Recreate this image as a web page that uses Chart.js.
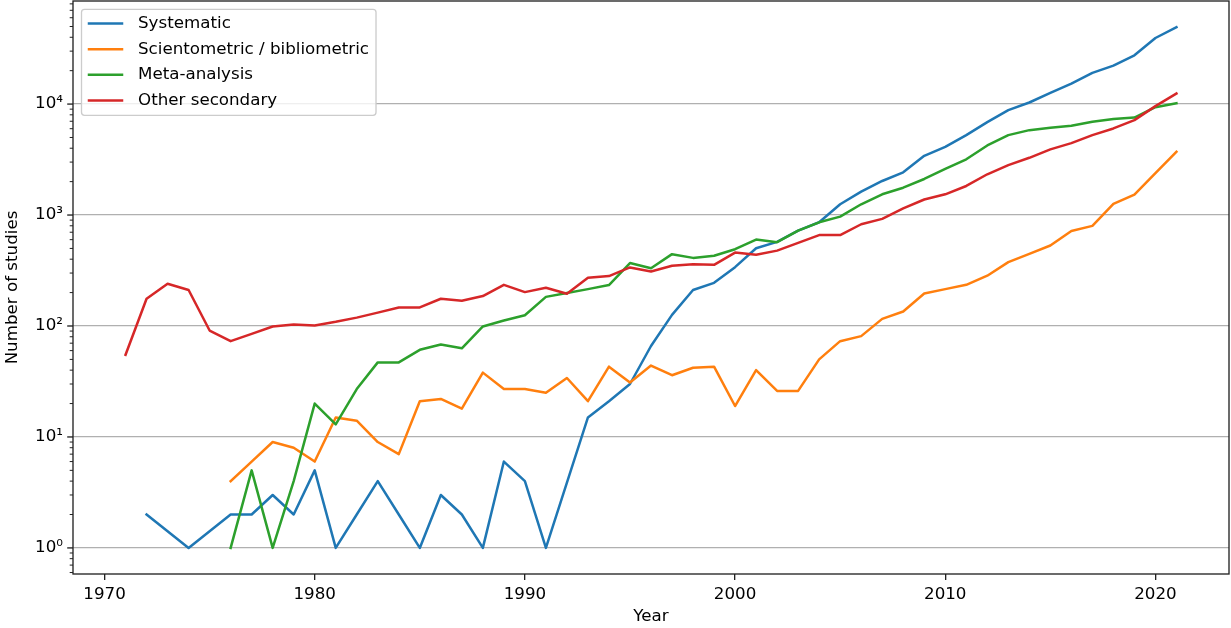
<!DOCTYPE html>
<html>
<head>
<meta charset="utf-8">
<script src="https://cdn.jsdelivr.net/npm/chart.js@4/dist/chart.umd.min.js"></script>
<style>
  html, body { margin: 0; padding: 0; background: #fff; }
  #wrap { width: 1231px; height: 628px; position: relative; }
</style>
</head>
<body>
<div id="wrap"><canvas id="studies-chart"></canvas></div>
<script>
// Years on the x axis
const years = [
  1971, 1972, 1973, 1974, 1975, 1976, 1977, 1978, 1979, 1980,
  1981, 1982, 1983, 1984, 1985, 1986, 1987, 1988, 1989, 1990,
  1991, 1992, 1993, 1994, 1995, 1996, 1997, 1998, 1999, 2000,
  2001, 2002, 2003, 2004, 2005, 2006, 2007, 2008, 2009, 2010,
  2011, 2012, 2013, 2014, 2015, 2016, 2017, 2018, 2019, 2020, 2021,
];
// Number of studies per year (null = no point that year)
const systematic = [
  null, 2, null, 1, null, 2, 2, 3, 2, 5,
  1, 2, 4, 2, 1, 3, 2, 1, 6, 4,
  1, null, 15, 21, 30, 66, 126, 211, 245, 339,
  502, 573, 724, 861, 1250, 1624, 2027, 2427, 3420, 4120,
  5250, 6870, 8810, 10330, 12600, 15300, 19100, 22200, 27500, 39400, 49400,
];
const scientometric = [
  null, null, null, null, null, 4, 6, 9, 8, 6,
  15, 14, 9, 7, 21, 22, 18, 38, 27, 27,
  25, 34, 21, 43, 31, 44, 36, 42, 43, 19,
  40, 26, 26, 50, 73, 81, 116, 135, 196, 215,
  235, 284, 376, 447, 531, 719, 798, 1259, 1525, 2380, 3720,
];
const metaAnalysis = [
  null, null, null, null, null, 1, 5, 1, 4, 20,
  13, 27, 47, 47, 61, 68, 63, 99, 112, 125,
  183, 198, 215, 234, 369, 332, 444, 411, 429, 492,
  601, 569, 724, 860, 968, 1250, 1538, 1763, 2113, 2600,
  3180, 4240, 5250, 5820, 6110, 6370, 6920, 7320, 7560, 9380, 10180,
];
const otherSecondary = [
  55, 176, 240, 211, 91, 73, 85, 99, 103, 101,
  109, 119, 132, 147, 147, 176, 169, 186, 235, 202,
  221, 195, 272, 282, 337, 310, 349, 361, 356, 459,
  438, 478, 561, 660, 660, 826, 923, 1150, 1380, 1538,
  1828, 2330, 2820, 3280, 3905, 4450, 5250, 6030, 7170, 9580, 12450,
];

const seriesLabels = ["Systematic", "Scientometric / bibliometric", "Meta-analysis", "Other secondary"];
const seriesColors = ["#1f77b4", "#ff7f0e", "#2ca02c", "#d62728"];

// Tick positions and labels
const xTicks = [1970, 1980, 1990, 2000, 2010, 2020];
const yMajorTicks = [1, 10, 100, 1000, 10000];
const yTickLabels = ["10\u2070", "10\u00b9", "10\u00b2", "10\u00b3", "10\u2074"];

const yMin = 0.582;
const yMax = 84900;

//Minor log ticks between the decades (2..9 x 10^n)
const yAllTicks = [];
for (const major of [0.1].concat(yMajorTicks)) {
  for (let m = 1; m <= 9; m++) {
    const v = m * major;
    if (v >= yMin && v <= yMax) yAllTicks.push(yMajorTicks.includes(Math.round(v)) && m === 1 ? Math.round(v) : v);
  }
}

const FONT = "'DejaVu Sans', 'Noto Sans', sans-serif";
const FONT_SIZE = 16.7;
Chart.defaults.font.family = FONT;
Chart.defaults.font.size = FONT_SIZE;
Chart.defaults.color = "#000";

function isMajor(v) {
  return yMajorTicks.includes(v);
}

//Spines, y tick marks and the boxed legend, drawn like matplotlib
const axesFrame = {
  id: "axesFrame",
  afterDatasetsDraw(chart) {
    const ctx = chart.ctx;
    const area = chart.chartArea;
    const yScale = chart.scales.y;
    ctx.save();
    ctx.strokeStyle = "#222";
    yScale.ticks.forEach((t) => {
      const py = yScale.getPixelForValue(t.value);
      const major = isMajor(t.value);
      ctx.lineWidth = major ? 1.33 : 1;
      ctx.beginPath();
      ctx.moveTo(area.left, py);
      ctx.lineTo(area.left - (major ? 5.8 : 3.3), py);
      ctx.stroke();
    });
    ctx.lineWidth = 1.33;
    ctx.strokeRect(area.left, area.top, area.right - area.left, area.bottom - area.top);
    ctx.restore();
  },
  afterDraw(chart) {
    const ctx = chart.ctx;
    const area = chart.chartArea;
    const datasets = chart.data.datasets;
    ctx.save();
    ctx.font = FONT_SIZE + "px " + FONT;
    const textW = Math.max(...datasets.map((d) => ctx.measureText(d.label).width));
    const x0 = area.left + 8.5;
    const y0 = area.top + 8.3;
    const w = 56.5 + textW + 7;
    const h = 106;
    const r = 3;
    ctx.beginPath();
    ctx.moveTo(x0 + r, y0);
    ctx.arcTo(x0 + w, y0, x0 + w, y0 + h, r);
    ctx.arcTo(x0 + w, y0 + h, x0, y0 + h, r);
    ctx.arcTo(x0, y0 + h, x0, y0, r);
    ctx.arcTo(x0, y0, x0 + w, y0, r);
    ctx.closePath();
    ctx.fillStyle = "rgba(255,255,255,0.8)";
    ctx.fill();
    ctx.strokeStyle = "#cccccc";
    ctx.lineWidth = 1.33;
    ctx.stroke();
    datasets.forEach((d, i) => {
      const cy = y0 + 14.3 + i * 25.6;
      ctx.strokeStyle = d.borderColor;
      ctx.lineWidth = 2.5;
      ctx.lineCap = "square";
      ctx.beginPath();
      ctx.moveTo(x0 + 7.5, cy);
      ctx.lineTo(x0 + 40.5, cy);
      ctx.stroke();
      ctx.fillStyle = "#000";
      ctx.textBaseline = "middle";
      ctx.textAlign = "left";
      ctx.fillText(d.label, x0 + 56.5, cy);
    });
    ctx.restore();
  },
};

const allSeries = [systematic, scientometric, metaAnalysis, otherSecondary];
const datasets = allSeries.map((values, i) => ({
  label: seriesLabels[i],
  data: years.map((yr, j) => ({ x: yr, y: values[j] })),
  borderColor: seriesColors[i],
  backgroundColor: seriesColors[i],
  borderWidth: 2.5,
  borderJoinStyle: "round",
  borderCapStyle: "square",
  pointRadius: 0,
  pointHoverRadius: 0,
  tension: 0,
  fill: false,
  spanGaps: true,
  order: allSeries.length - i,
}));

const canvas = document.getElementById("studies-chart");
new Chart(canvas.getContext("2d"), {
  type: "line",
  data: { datasets: datasets },
  plugins: [axesFrame],
  options: {
    responsive: true,
    maintainAspectRatio: false,
    devicePixelRatio: 1,
    animation: false,
    layout: { padding: { top: 1, right: 2, left: 0, bottom: 0 } },
    plugins: {
      legend: { display: false },
      tooltip: { enabled: false },
    },
    scales: {
      x: {
        type: "linear",
        min: 1968.5,
        max: 2023.5,
        afterBuildTicks: (scale) => {
          scale.ticks = xTicks.map((v) => ({ value: v }));
        },
        afterFit: (scale) => {
          scale.height = 54;
          scale.paddingLeft = 0;
          scale.paddingRight = 0;
        },
        ticks: {
          autoSkip: false,
          maxRotation: 0,
          padding: 5,
          color: "#000",
          callback: (v) => String(v),
        },
        grid: {
          drawOnChartArea: false,
          tickLength: 6,
          tickColor: "#222",
          lineWidth: 1.33,
        },
        border: { display: false },
        title: {
          display: true,
          text: "Year",
          color: "#000",
          padding: { top: 0, bottom: 1 },
        },
      },
      y: {
        type: "logarithmic",
        min: yMin,
        max: yMax,
        afterBuildTicks: (scale) => {
          scale.ticks = yAllTicks.map((v) => ({ value: v }));
        },
        afterFit: (scale) => {
          scale.width = 73;
          scale.paddingTop = 0;
          scale.paddingBottom = 0;
        },
        ticks: {
          autoSkip: false,
          padding: 10,
          color: "#000",
          callback: (v) => {
            const i = yMajorTicks.indexOf(v);
            return i >= 0 ? yTickLabels[i] : "";
          },
        },
        grid: {
          drawTicks: false,
          lineWidth: 1.33,
          color: (c) => (c.tick && isMajor(c.tick.value) ? "#b0b0b0" : "rgba(0,0,0,0)"),
        },
        border: { display: false },
        title: {
          display: true,
          text: "Number of studies",
          color: "#000",
          padding: { top: 3, bottom: 0 },
        },
      },
    },
  },
});
</script>
</body>
</html>
